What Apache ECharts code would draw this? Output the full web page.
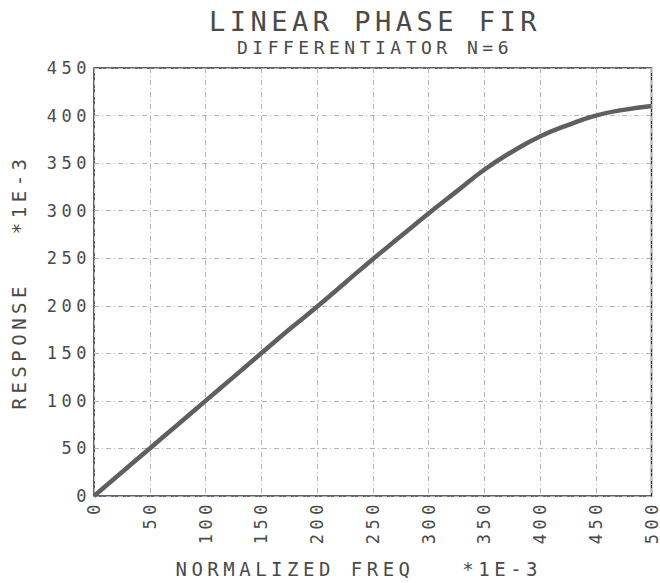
<!DOCTYPE html>
<html><head><meta charset="utf-8">
<script src="https://cdn.jsdelivr.net/npm/echarts@6/dist/echarts.min.js"></script>
<style>
html,body{margin:0;padding:0;background:#fff;}
#chart{width:660px;height:583px;}
#chart text{letter-spacing:4.5px;}
</style></head><body><div id="chart"></div>
<script>
const titleText = 'LINEAR PHASE FIR';
const subtitleText = 'DIFFERENTIATOR N=6';
const xName = 'NORMALIZED FREQ   *1E-3';
const yName = 'RESPONSE   *1E-3';
const freq = [0, 25, 50, 75, 100, 125, 150, 175, 200, 225, 250, 275, 300, 325, 350, 375, 400, 425, 450, 475, 500];
const response = [0, 25, 50, 75, 100, 125, 150, 175, 199, 224, 249, 273, 297, 320, 343, 362, 378, 390, 400, 406, 410];
const xTicks = {min: 0, max: 500, interval: 50};
const yTicks = {min: 0, max: 450, interval: 50};

const FONT = '"DejaVu Sans Mono", "Liberation Mono", monospace';
const TXT = '#4a4a4a';
const chart = echarts.init(document.getElementById('chart'), null, {renderer: 'svg'});
chart.setOption({
  animation: false,
  backgroundColor: '#fff',
  title: {
    text: titleText, subtext: subtitleText,
    left: 375, top: 8, textAlign: 'center', padding: 0, itemGap: 3,
    textStyle: {fontFamily: FONT, fontSize: 27, fontWeight: 'normal', color: TXT},
    subtextStyle: {fontFamily: FONT, fontSize: 18, color: TXT}
  },
  grid: {left: 94, right: 3, top: 68, bottom: 81, show: true, borderColor: '#333', borderWidth: 1.5, backgroundColor: 'transparent'},
  xAxis: {
    type: 'value', min: xTicks.min, max: xTicks.max, interval: xTicks.interval,
    name: xName, nameLocation: 'middle', nameGap: 63,
    nameTextStyle: {fontFamily: FONT, fontSize: 19, color: TXT, padding: [0, 28, 0, 0]},
    axisLine: {show: false}, axisTick: {show: false},
    axisLabel: {rotate: 90, margin: 4, fontFamily: FONT, fontSize: 17, color: TXT},
    splitLine: {show: true, lineStyle: {color: '#b5b5b5', width: 1, type: [5, 3, 1, 3]}}
  },
  yAxis: {
    type: 'value', min: yTicks.min, max: yTicks.max, interval: yTicks.interval,
    name: yName, nameLocation: 'middle', nameGap: 66,
    nameTextStyle: {fontFamily: FONT, fontSize: 19, color: TXT},
    axisLine: {show: false}, axisTick: {show: false},
    axisLabel: {margin: 3, fontFamily: FONT, fontSize: 17, color: TXT},
    splitLine: {show: true, lineStyle: {color: '#b5b5b5', width: 1, type: [5, 3, 1, 3]}}
  },
  series: [{
    type: 'line', smooth: true, symbol: 'none',
    data: freq.map((f, i) => [f, response[i]]),
    lineStyle: {color: '#5f5f5f', width: 4.5}
  }]
});
</script></body></html>
